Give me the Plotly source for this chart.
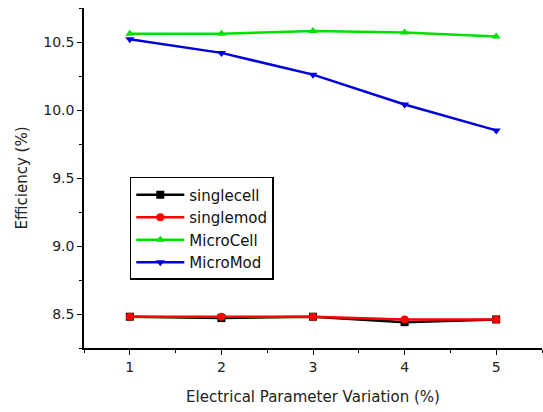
import plotly.graph_objects as go

x = [1, 2, 3, 4, 5]
singlecell = [8.48, 8.47, 8.48, 8.44, 8.46]
singlemod = [8.48, 8.48, 8.48, 8.46, 8.46]
microcell = [10.56, 10.56, 10.58, 10.57, 10.54]
micromod = [10.52, 10.42, 10.26, 10.04, 9.85]

series = [
    ("singlecell", singlecell, "#000000", "square"),
    ("singlemod", singlemod, "#ff0000", "circle"),
    ("MicroCell", microcell, "#00e000", "triangle-up"),
    ("MicroMod", micromod, "#0000dd", "triangle-down"),
]

fig = go.Figure()
for name, ys, col, sym in series:
    fig.add_trace(go.Scatter(
        x=x, y=ys, name=name, mode="lines+markers",
        line=dict(color=col, width=2.5),
        marker=dict(symbol=sym, size=8, color=col),
    ))

font = dict(family="DejaVu Sans, Liberation Sans, sans-serif", size=14, color="#222")
fig.update_layout(
    width=543, height=412,
    margin=dict(l=84, r=1, t=8, b=64),
    paper_bgcolor="white", plot_bgcolor="white",
    font=font,
    showlegend=True,
    legend=dict(x=0.10, y=0.503, xanchor="left", yanchor="top",
                bordercolor="black", borderwidth=1.5, bgcolor="white",
                font=dict(size=15, color="#111"), tracegroupgap=0,
                itemwidth=48),
    xaxis=dict(range=[0.5, 5.5], tickmode="array", tickvals=x,
               ticks="outside", ticklen=5, tickwidth=1.2, tickcolor="black",
               showline=True, linecolor="black", linewidth=1.5,
               showgrid=False, zeroline=False,
               minor=dict(dtick=0.5, tick0=0.5, ticks="outside", ticklen=3, tickcolor="black"),
               title=dict(text="Electrical Parameter Variation (%)", standoff=18,
                          font=dict(size=15))),
    yaxis=dict(range=[8.25, 10.75], tickvals=[8.5, 9.0, 9.5, 10.0, 10.5],
               ticktext=["8.5", "9.0", "9.5", "10.0", "10.5"],
               ticks="outside", ticklen=5, tickwidth=1.2, tickcolor="black",
               showline=True, linecolor="black", linewidth=1.5,
               showgrid=False, zeroline=False,
               minor=dict(dtick=0.25, tick0=8.25, ticks="outside", ticklen=3, tickcolor="black"),
               title=dict(text="Efficiency (%)", standoff=12, font=dict(size=15))),
)

fig.write_html("out.html")
